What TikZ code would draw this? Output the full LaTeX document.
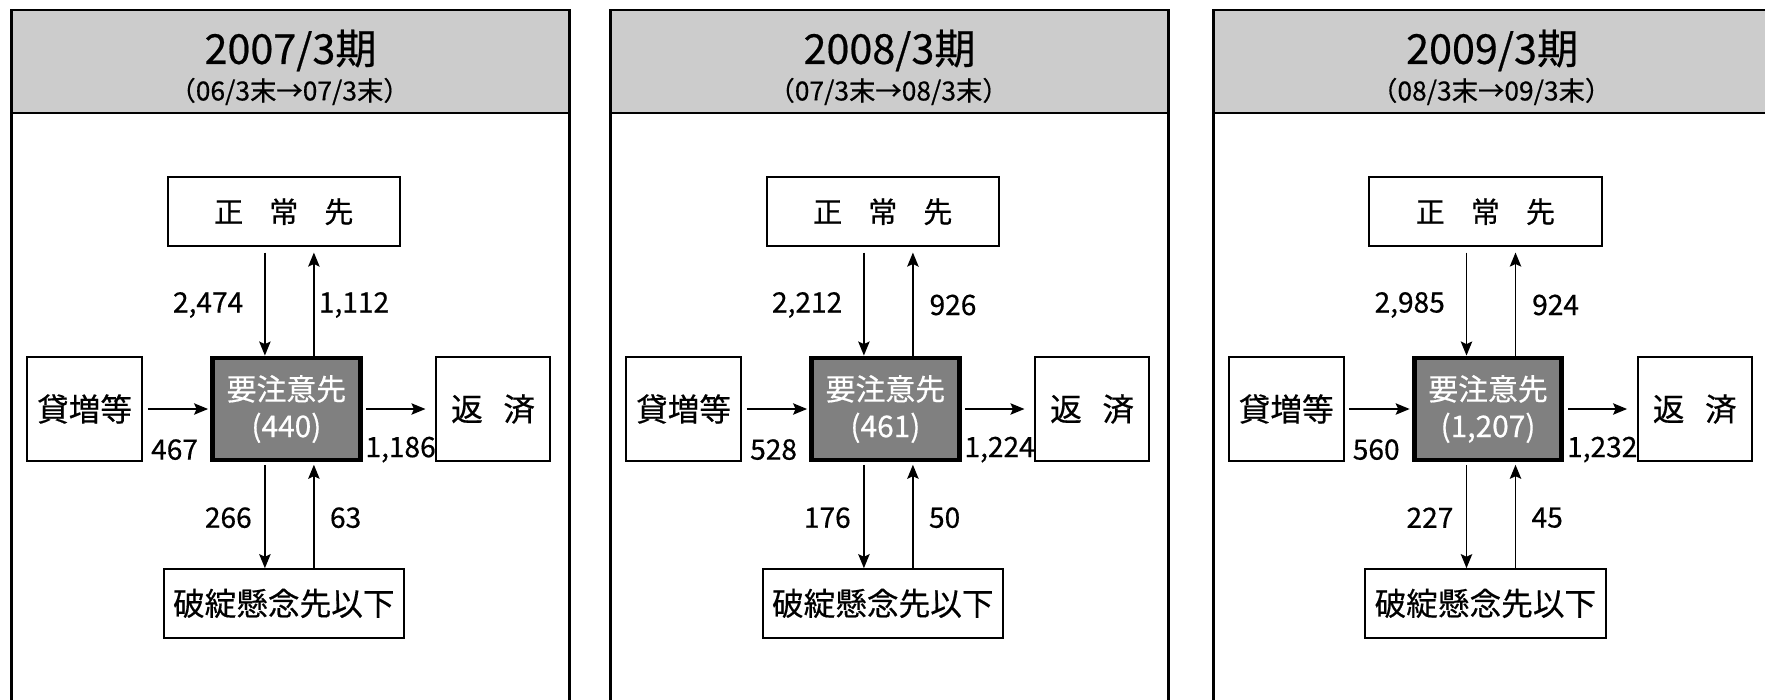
\documentclass[tikz,border=0pt]{standalone}
\usepackage{fontspec}
\setmainfont{Noto Sans CJK JP}[FakeBold=0.5]
\usetikzlibrary{arrows.meta}
\definecolor{headgray}{gray}{0.8}
\definecolor{keygray}{gray}{0.5}
\tikzset{
  box/.style={draw,line width=1.1pt,inner sep=0pt,minimum height=13.7mm,font=\fontsize{18}{21}\selectfont},
  sidebox/.style={box,minimum height=20.8mm},
  keybox/.style={draw,fill=keygray,text=white,line width=2.8pt,inner sep=0pt,
    minimum width=29.5mm,minimum height=20.4mm,align=center,font=\fontsize{17}{21}\selectfont},
  num/.style={font=\fontsize{16}{19}\selectfont},
  flow/.style={-{Stealth[length=8pt,width=6.5pt,inset=1.5pt]},line width=0.9pt}
}

\begin{document}
\begin{tikzpicture}[x=0.2mm,y=-0.2mm]
   \useasboundingbox (0,0) rectangle (1765,699);
   \clip (0,0) rectangle (1765,699);
   \foreach \x/\yr/\p/\q/\n/\a/\b/\c/\d/\e/\f in
    {11.6/2007/06/07/440/{2,474}/{1,112}/467/{1,186}/266/63,
     610.6/2008/07/08/461/{2,212}/926/528/{1,224}/176/50,
     1213.2/2009/08/09/{1,207}/{2,985}/924/560/{1,232}/227/45} {
    \begin{scope}[shift={(\x,0)}]
     \filldraw[fill=headgray,line width=1.5pt] (0,10) rectangle (558,113);
     \draw[line width=1.5pt] (0,113) -- (0,720) (558,113) -- (558,720);
     \node[font=\fontsize{23.5}{28}\selectfont] (ttl) at (279,50.5) {\yr/3期};
     \node[font=\fontsize{15}{18}\selectfont] (sub) at (278,91.5) {（\p/3末→\q/3末）};
     \node[box,minimum width=46.5mm,font=\fontsize{16.5}{19}\selectfont] (top) at (272.2,211.7)
      {正\hspace{0.9em}常\hspace{0.9em}先};
     \node[keybox] (mid) at (274.8,409) {要注意先\\(\n)};
     \node[box,minimum width=48.1mm] (low) at (272.2,603.4) {破綻懸念先以下};
     \node[sidebox,minimum width=23mm] (src) at (73,409) {貸増等};
     \node[sidebox,minimum width=22.8mm] (pay) at (481.5,409) {返\hspace{0.65em}済};
     \coordinate (dn) at (253.3,409);
     \coordinate (up) at (302.3,409);
     \draw[flow,shorten <=3.2pt] (dn |- top.south) -- (dn |- mid.north);
     \draw[flow,shorten >=3.2pt] (up |- mid.north) -- (up |- top.south);
     \draw[flow,shorten <=1.3pt] (dn |- mid.south) -- (dn |- low.north);
     \draw[flow,shorten >=1.3pt] (up |- low.north) -- (up |- mid.south);
     \draw[flow,shorten <=2.7pt,shorten >=1.2pt] (src.east) -- (mid.west);
     \draw[flow,shorten <=2.2pt,shorten >=5.5pt] (mid.east) -- (pay.west);
     \node[num] (na) at (196.5,305) {\a};
     \node[num] (nb) at (342.4,305) {\b};
     \node[num] (nc) at (163,449.6) {\c};
     \node[num] (nd) at (389,449.6) {\d};
     \node[num] (ne) at (216.7,517.7) {\e};
     \node[num] (nf) at (334,517.7) {\f};
    \end{scope}
   }
  \end{tikzpicture}
\end{document}
